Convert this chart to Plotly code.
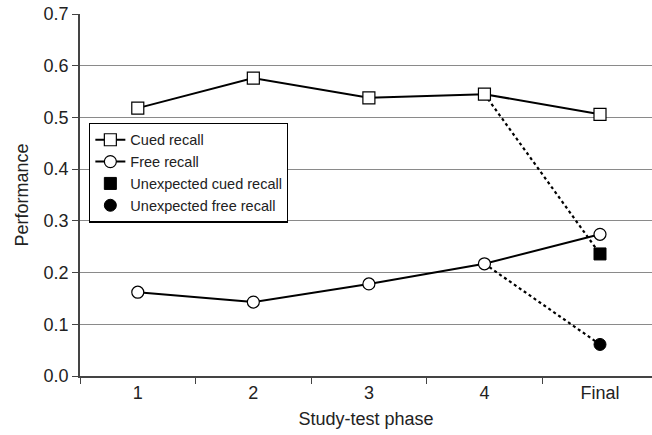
import plotly.graph_objects as go

phases = ["1", "2", "3", "4", "Final"]
cued_recall = [0.518, 0.576, 0.538, 0.545, 0.506]
free_recall = [0.162, 0.143, 0.178, 0.217, 0.274]
unexpected_cued = 0.236
unexpected_free = 0.061
y_ticks = [0.0, 0.1, 0.2, 0.3, 0.4, 0.5, 0.6, 0.7]

FONT = "Liberation Sans, Arial, sans-serif"
TXT = "#222"

fig = go.Figure()

# dotted connectors from phase 4 to the unexpected final tests
fig.add_trace(go.Scatter(
    x=[phases[3], phases[4]], y=[cued_recall[3], unexpected_cued],
    mode="lines", line=dict(color="black", width=2.2, dash="dot"),
    showlegend=False, hoverinfo="skip"))
fig.add_trace(go.Scatter(
    x=[phases[3], phases[4]], y=[free_recall[3], unexpected_free],
    mode="lines", line=dict(color="black", width=2.2, dash="dot"),
    showlegend=False, hoverinfo="skip"))

fig.add_trace(go.Scatter(
    x=phases, y=cued_recall, name="Cued recall", mode="lines+markers",
    line=dict(color="black", width=2),
    marker=dict(symbol="square", size=12, color="white",
                line=dict(color="black", width=1.2))))
fig.add_trace(go.Scatter(
    x=phases, y=free_recall, name="Free recall", mode="lines+markers",
    line=dict(color="black", width=2),
    marker=dict(symbol="circle", size=12, color="white",
                line=dict(color="black", width=1.2))))
fig.add_trace(go.Scatter(
    x=[phases[4]], y=[unexpected_cued], name="Unexpected cued recall",
    mode="markers",
    marker=dict(symbol="square", size=12, color="black",
                line=dict(color="black", width=1))))
fig.add_trace(go.Scatter(
    x=[phases[4]], y=[unexpected_free], name="Unexpected free recall",
    mode="markers",
    marker=dict(symbol="circle", size=12, color="black",
                line=dict(color="black", width=1))))

fig.update_layout(
    width=652, height=435,
    margin=dict(l=80, r=0, t=14, b=59),
    paper_bgcolor="white", plot_bgcolor="white",
    font=dict(family=FONT, color=TXT),
    legend=dict(
        x=0.016, y=0.70, xanchor="left", yanchor="top",
        bgcolor="white", bordercolor="black", borderwidth=1.2,
        font=dict(size=14.5, family=FONT, color=TXT),
        tracegroupgap=0, itemwidth=30,
    ),
    xaxis=dict(
        type="category", categoryorder="array", categoryarray=phases,
        range=[-0.5, 4.45],
        tickson="boundaries", ticks="outside", ticklen=6, tickcolor="#444",
        showgrid=False, showline=True, linecolor="#444", linewidth=1.5,
        tickfont=dict(size=18, family=FONT, color=TXT),
        title=dict(text="Study-test phase", font=dict(size=18, family=FONT, color=TXT),
                   standoff=10),
    ),
    yaxis=dict(
        range=[0, 0.7], tickvals=y_ticks, tickformat=".1f",
        ticks="outside", ticklen=6, tickcolor="#444",
        showgrid=True, gridcolor="#8a8a8a", gridwidth=1,
        showline=True, linecolor="#444", linewidth=1.5,
        zeroline=False,
        tickfont=dict(size=18, family=FONT, color=TXT),
        title=dict(text="Performance", font=dict(size=18, family=FONT, color=TXT),
                   standoff=10),
    ),
)

fig.write_html("out.html")
